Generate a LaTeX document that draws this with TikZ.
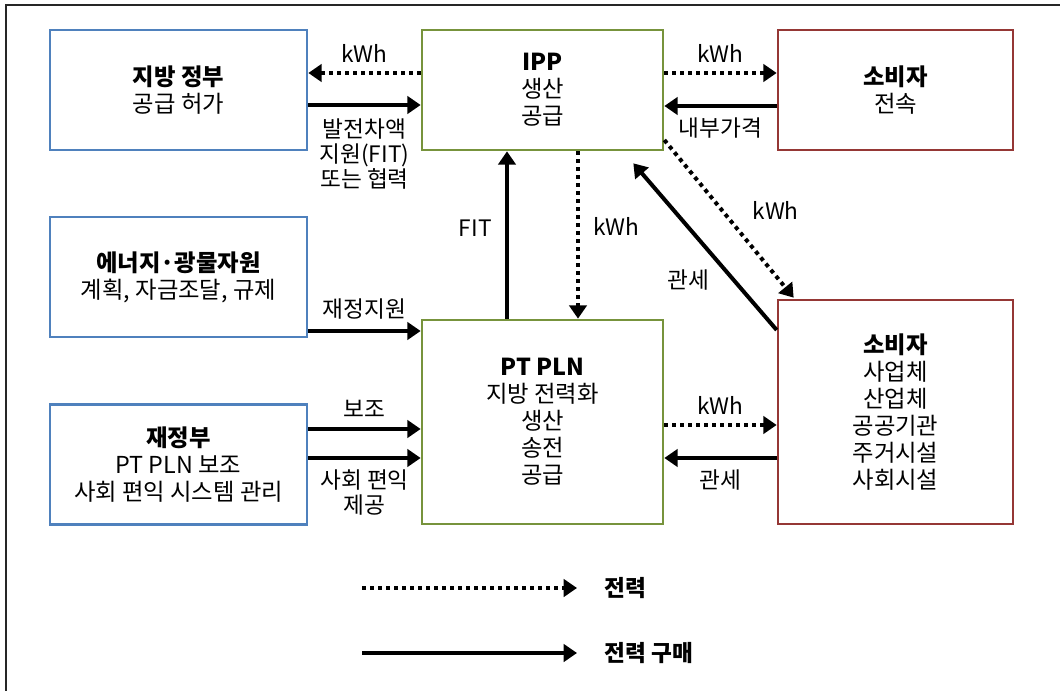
\documentclass[tikz,border=0pt]{standalone}
\usepackage{fontspec}
\setmainfont{Noto Sans CJK KR}
\usetikzlibrary{calc, arrows.meta}
\definecolor{govblue}{RGB}{79,129,189}
\definecolor{plngreen}{RGB}{119,147,60}
\definecolor{userred}{RGB}{149,55,53}

\begin{document}
\begin{tikzpicture}[x=0.75pt, y=-0.75pt, font=\fontsize{17.5}{20.25}\selectfont,
  box/.style={draw, line width=2pt, fill=white, align=center, inner sep=0pt},
  govbox/.style={box, draw=govblue, minimum width=192.75pt, minimum height=90pt},
  genbox/.style={box, draw=plngreen, minimum width=180.75pt},
  userbox/.style={box, draw=userred, minimum width=176.25pt},
  power/.style={line width=3pt, dash pattern=on 3pt off 3pt,
    -{Triangle[length=10pt, width=13pt]}},
  buy/.style={line width=3pt, -{Triangle[length=10pt, width=13pt]}},
  lbl/.style={font=\fontsize{17}{18.75}\selectfont, align=center, inner sep=1pt}]
  \useasboundingbox (0,0) rectangle (1060,691);
  % 바깥 테두리 (위, 왼쪽만)
  \draw[line width=1.5pt, black!85] (6,691) -- (6,5) -- (1060,5);

  % 정부 쪽 상자
  \node[govbox] (gov) at (178.5, 90) {\bfseries 지방 정부\\공급 허가};
  \node[govbox] (energy) at (178.5, 277) {\bfseries 에너지·광물자원\\계획, 자금조달, 규제};
  \node[govbox] (finance) at (178.5, 464.5) {\bfseries 재정부\\PT PLN 보조\\사회 편익 시스템 관리};
  % 발전 / 송전
  \node[genbox, minimum height=90pt] (ipp) at (542.5, 90) {\bfseries IPP\\생산\\공급};
  \node[genbox, minimum height=153pt] (pln) at (542.5, 422) {\bfseries PT PLN\\지방 전력화\\생산\\송전\\공급};
  % 소비자
  \node[userbox, minimum height=90pt] (cons) at (895.5, 90) {\bfseries 소비자\\전속};
  \node[userbox, minimum height=168pt] (users) at (895.5, 412) {\bfseries 소비자\\사업체\\산업체\\공공기관\\주거시설\\사회시설};

  % 지방 정부 <-> IPP
  \draw[power] (ipp.west |- 0,73) -- (gov.east |- 0,73) node[lbl, midway, above=5pt] {kWh};
  \draw[buy] (gov.east |- 0,105) -- (ipp.west |- 0,105)
    node[lbl, midway, below=8pt] {발전차액\\지원(FIT)\\또는 협력};
  % 재정 지원
  \draw[buy] (energy.east |- 0,331) -- (pln.west |- 0,331) node[lbl, midway, above=6pt] {재정지원};
  \draw[buy] (finance.east |- 0,429) -- (pln.west |- 0,429) node[lbl, midway, above=6pt] {보조};
  \draw[buy] (finance.east |- 0,458) -- (pln.west |- 0,458)
    node[lbl, midway, below=6pt] {사회 편익\\제공};
  % IPP <-> PT PLN
  \draw[buy] (pln.north -| 507,0) -- (ipp.south -| 507,0) node[lbl, pos=0.54, left=9pt] {FIT};
  \draw[power] (ipp.south -| 578,0) -- (pln.north -| 578,0) node[lbl, pos=0.45, right=9pt] {kWh};
  % IPP <-> 소비자
  \draw[power] (ipp.east |- 0,73) -- (cons.west |- 0,73) node[lbl, midway, above=5pt] {kWh};
  \draw[buy] (cons.west |- 0,106) -- (ipp.east |- 0,106) node[lbl, midway, below=6pt] {내부가격};
  \coordinate (tariffend) at ($(ipp.south east)+(-31,12)$);
  \draw[power] (ipp.east |- 0,140) -- ($(users.north west)+(17,-1)$)
    node[lbl, pos=0.45, right=20pt] {kWh};
  \draw[buy] (users.west |- 0,330) -- (tariffend) node[lbl, pos=0.3, left=16pt] {관세};
  % PT PLN <-> 소비자
  \draw[power] (pln.east |- 0,425) -- (users.west |- 0,425) node[lbl, midway, above=5pt] {kWh};
  \draw[buy] (users.west |- 0,458) -- (pln.east |- 0,458) node[lbl, midway, below=6pt] {관세};

  % 범례
  \coordinate (dotstart) at (362,588);
  \coordinate (linestart) at (362,653);
  \node[lbl, anchor=west] (dotkey) at (603,588) {\bfseries 전력};
  \node[lbl, anchor=west] (linekey) at (603,653) {\bfseries 전력 구매};
  \draw[power] (dotstart) -- ($(dotkey.west)+(-26,0)$);
  \draw[buy] (linestart) -- ($(linekey.west)+(-26,0)$);
\end{tikzpicture}
\end{document}
